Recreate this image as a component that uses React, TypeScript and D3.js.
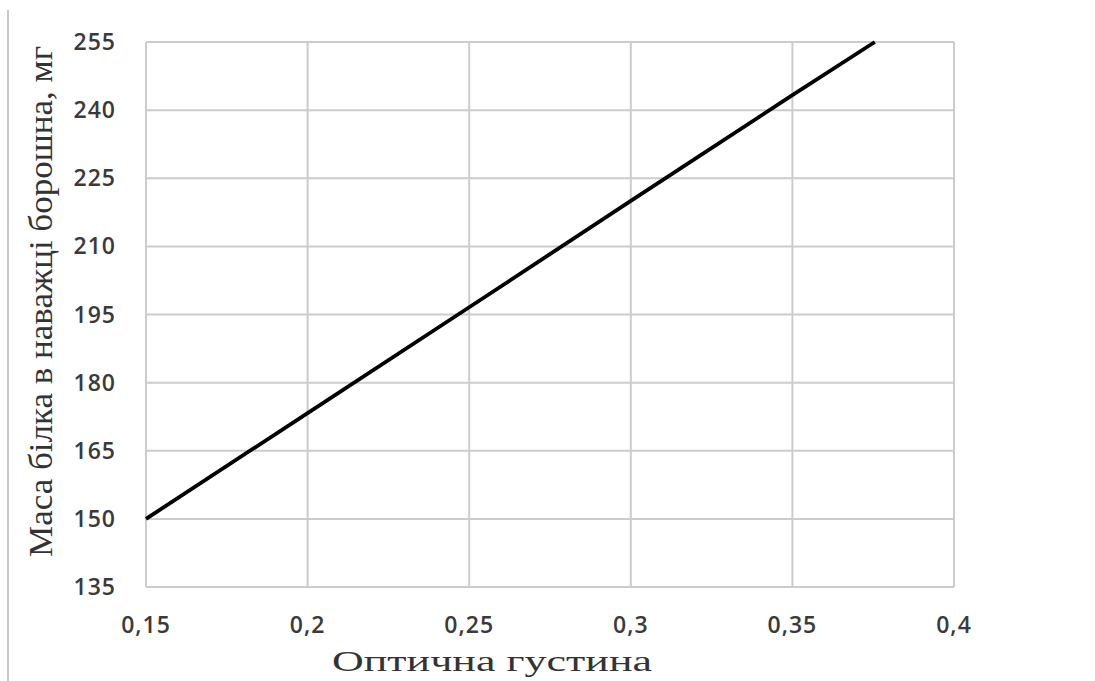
import React from "react";
import * as d3 from "d3";

const xValues = [0.15, 0.2, 0.25, 0.3, 0.35, 0.3755];
const yValues = [150, 173.3, 196.6, 220, 243.3, 255];
const xTicks = [0.15, 0.2, 0.25, 0.3, 0.35, 0.4];
const yTicks = [135, 150, 165, 180, 195, 210, 225, 240, 255];
const xTitle = "Оптична густина";
const yTitle = "Маса білка в наважці борошна, мг";

const W = 1095;
const H = 681;
const plot = { left: 146, right: 954, top: 42, bottom: 587 };

export default function App() {
  const x = d3.scaleLinear().domain([0.15, 0.4]).range([plot.left, plot.right]);
  const y = d3.scaleLinear().domain([135, 255]).range([plot.bottom, plot.top]);
  const pts = xValues.map((v, i) => [v, yValues[i]] as [number, number]);
  const line = d3
    .line<[number, number]>()
    .x((d) => x(d[0]))
    .y((d) => y(d[1]));
  const fmt = (v: number) => String(v).replace(".", ",");
  return (
    <svg
      width={W}
      height={H}
      style={{ position: "absolute", left: 0, top: 0, background: "#fff" }}
    >
      <rect x={0} y={0} width={W} height={H} fill="#fff" />
      <line x1={8} x2={8} y1={10} y2={681} stroke="#c8c8c8" strokeWidth={2} />
      <g>
        {yTicks.map((t) => (
          <line
            key={"gy" + t}
            x1={plot.left}
            x2={plot.right}
            y1={y(t)}
            y2={y(t)}
            stroke="#cccccc"
            strokeWidth={2}
          />
        ))}
        {xTicks.map((t) => (
          <line
            key={"gx" + t}
            x1={x(t)}
            x2={x(t)}
            y1={plot.top}
            y2={plot.bottom}
            stroke="#cccccc"
            strokeWidth={2}
          />
        ))}
      </g>
      <path d={line(pts) || ""} fill="none" stroke="#000" strokeWidth={3.8} />
      <g
        fontFamily="'Open Sans', 'Liberation Sans', sans-serif"
        fontWeight={600}
        fontSize={23}
        letterSpacing={1}
        fill="#3a3a3a"
      >
        {yTicks.map((t) => (
          <text key={"ty" + t} x={116} y={y(t)} dy="0.35em" textAnchor="end">
            {t}
          </text>
        ))}
        {xTicks.map((t) => (
          <text key={"tx" + t} x={x(t)} y={633} textAnchor="middle">
            {fmt(t)}
          </text>
        ))}
      </g>
      <text
        x={492}
        y={671}
        textAnchor="middle"
        fontFamily="'Liberation Serif', 'DejaVu Serif', serif"
        fontSize={29}
        fill="#333"
        textLength={320}
        lengthAdjust="spacingAndGlyphs"
      >
        {xTitle}
      </text>
      <text
        transform={`translate(52, ${(46 + 557) / 2}) rotate(-90)`}
        textAnchor="middle"
        fontFamily="'Liberation Serif', 'DejaVu Serif', serif"
        fontSize={33}
        fill="#333"
        textLength={511}
        lengthAdjust="spacingAndGlyphs"
      >
        {yTitle}
      </text>
    </svg>
  );
}
